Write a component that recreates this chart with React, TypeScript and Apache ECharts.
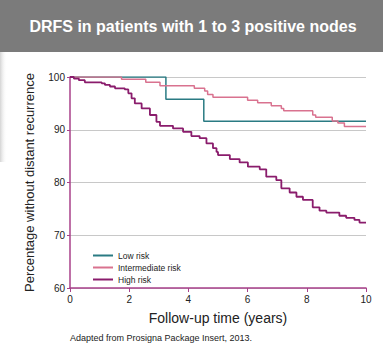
import React, { useEffect, useRef } from "react";
import * as echarts from "echarts";

const title = "DRFS in patients with 1 to 3 positive nodes";
const footnote = "Adapted from Prosigna Package Insert, 2013.";
const xTicks = [0, 2, 4, 6, 8, 10];
const yTicks = [60, 70, 80, 90, 100];
const seriesNames = ["Low risk", "Intermediate risk", "High risk"];

// [years, percentage] — value becomes v at time t (step: end)
const lowRisk: [number, number][] = [
  [0, 100], [3.24, 95.8], [4.52, 91.6], [10, 91.6],
];
const intermediateRisk: [number, number][] = [
  [0, 100], [1.74, 99.55], [2.56, 99.0], [3.04, 98.35], [4.2, 97.85],
  [4.55, 97.35], [4.65, 96.7], [4.83, 96.15], [6.0, 95.6], [6.34, 95.1],
  [6.8, 94.55], [7.14, 94.05], [7.22, 93.6], [8.2, 92.8], [8.3, 92.35],
  [8.86, 91.65], [9.05, 91.3], [9.27, 90.6], [10, 90.6],
];
const highRisk: [number, number][] = [
  [0, 100], [0.13, 99.7], [0.3, 99.4], [0.5, 99.0], [1.07, 98.8],
  [1.18, 98.5], [1.35, 98.2], [1.52, 97.85], [1.85, 97.65], [1.97, 96.9],
  [2.08, 95.95], [2.19, 95.0], [2.42, 94.05], [2.7, 92.8], [2.92, 91.5],
  [3.04, 90.75], [3.48, 90.25], [3.82, 89.6], [4.1, 88.8], [4.38, 88.4],
  [4.61, 87.4], [4.83, 86.5], [4.95, 85.8], [5.0, 85.2], [5.4, 84.45],
  [5.73, 83.8], [6.01, 83.0], [6.41, 82.5], [6.63, 81.1], [6.97, 80.45],
  [7.14, 78.9], [7.42, 78.1], [7.65, 77.3], [7.87, 76.7], [8.2, 75.3],
  [8.43, 74.65], [8.66, 74.3], [9.1, 73.7], [9.33, 73.3], [9.61, 72.9],
  [9.78, 72.4], [10, 72.4],
];

const colors = ["#2a7b83", "#d9728f", "#8a1c6c"];
const axisColor = "#a8408a";

export default function App() {
  const ref = useRef<HTMLDivElement>(null);
  useEffect(() => {
    if (!ref.current) return;
    const chart = echarts.init(ref.current, null, { renderer: "svg" });
    const font = "'Liberation Sans', Arial, sans-serif";
    const datasets = [lowRisk, intermediateRisk, highRisk];
    chart.setOption({
      animation: false,
      backgroundColor: "#ffffff",
      textStyle: { fontFamily: font },
      graphic: [
        { type: "rect", shape: { x: 0, y: 0, width: 383, height: 52 }, style: { fill: "#7b7b7b" }, silent: true },
        {
          type: "rect",
          shape: { x: 0, y: 52, width: 7, height: 110 },
          style: {
            fill: new echarts.graphic.LinearGradient(0, 0, 1, 0, [
              { offset: 0, color: "rgba(160,160,160,0.45)" },
              { offset: 1, color: "rgba(255,255,255,0)" },
            ]),
          },
          silent: true,
        },
        {
          type: "text", x: 193, y: 26,
          style: { text: title, fill: "#ffffff", font: `bold 16px ${font}`, align: "center", verticalAlign: "middle" },
        },
        {
          type: "text", x: 70, y: 338,
          style: { text: footnote, fill: "#222222", font: `9px ${font}`, align: "left", verticalAlign: "middle" },
        },
      ],
      legend: {
        orient: "vertical",
        left: 88,
        top: 246,
        itemWidth: 20,
        itemHeight: 2,
        itemGap: 3,
        icon: "rect",
        data: seriesNames,
        textStyle: { fontSize: 8.5, color: "#222", fontFamily: font },
      },
      grid: { left: 70, right: 17, top: 77, bottom: 62 },
      xAxis: {
        type: "value",
        min: 0,
        max: 10,
        interval: 2,
        name: "Follow-up time (years)",
        nameLocation: "middle",
        nameGap: 23,
        nameTextStyle: { fontSize: 14, color: "#222", fontFamily: font },
        axisLine: { lineStyle: { color: axisColor, width: 1.5 } },
        axisTick: { show: true, length: 4, lineStyle: { color: axisColor } },
        axisLabel: { fontSize: 10, color: "#222", margin: 6, formatter: (v: number) => (xTicks.includes(v) ? String(v) : "") },
        splitLine: { show: false },
      },
      yAxis: {
        type: "value",
        min: 60,
        max: 100,
        interval: 10,
        name: "Percentage without distant recurrence",
        nameLocation: "middle",
        nameGap: 34,
        nameTextStyle: { fontSize: 13, color: "#222", fontFamily: font },
        axisLine: { show: true, lineStyle: { color: axisColor, width: 1.5 } },
        axisTick: { show: true, length: 3, lineStyle: { color: axisColor } },
        axisLabel: { fontSize: 10, color: "#222", margin: 5, formatter: (v: number) => (yTicks.includes(v) ? String(v) : "") },
        splitLine: { show: true, lineStyle: { color: "#c8c8c8", width: 1 } },
      },
      series: datasets.map((d, i) => ({
        name: seriesNames[i],
        type: "line",
        step: "end",
        data: d,
        symbol: "none",
        showSymbol: false,
        lineStyle: { color: colors[i], width: i === 2 ? 1.8 : 1.5 },
        itemStyle: { color: colors[i] },
        z: 2 + i,
      })),
    });
    return () => chart.dispose();
  }, []);
  return <div ref={ref} style={{ width: 383, height: 350, position: "absolute", left: 0, top: 0 }} />;
}
